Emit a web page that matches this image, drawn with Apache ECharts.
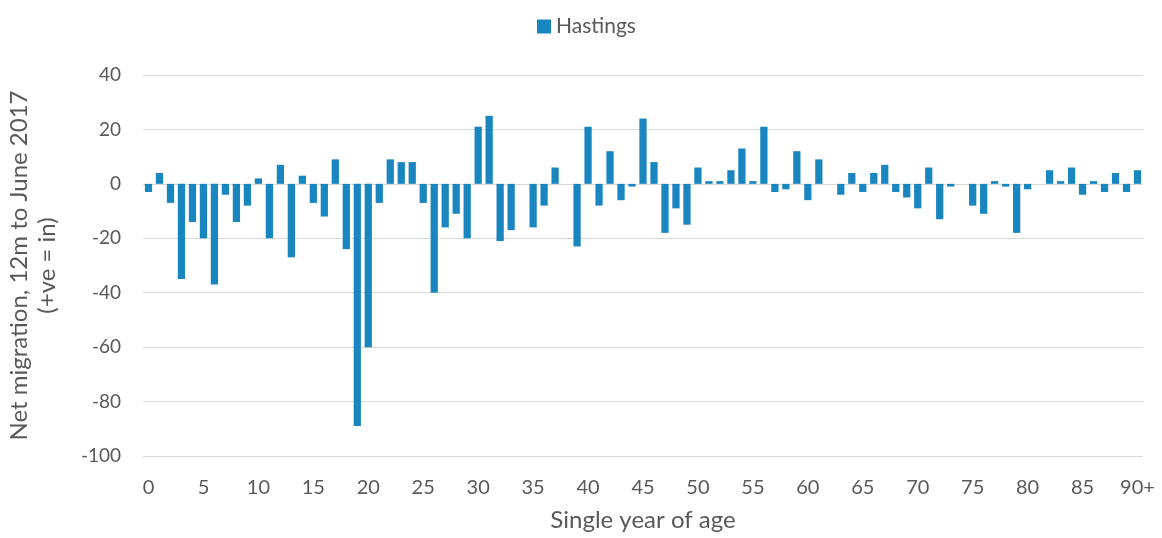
<!DOCTYPE html>
<html>
<head>
<meta charset="utf-8">
<script src="https://cdn.jsdelivr.net/npm/echarts@6/dist/echarts.min.js"></script>
<style>
    html, body { margin: 0; padding: 0; background: #fff; }
    #chart { width: 1162px; height: 538px; }
</style>
</head>
<body>
<div id="chart"></div>
<script>
// single year of age, 0 .. 89 then 90+
var ages = [];
for (var a = 0; a < 90; a++) {
    ages.push(String(a));
}
ages.push('90+');

// net migration (+ve = in)
var hastings = [
    -3, 4, -7, -35, -14, -20, -37, -4, -14, -8,
    2, -20, 7, -27, 3, -7, -12, 9, -24, -89,
    -60, -7, 9, 8, 8, -7, -40, -16, -11, -20,
    21, 25, -21, -17, 0, -16, -8, 6, 0, -23,
    21, -8, 12, -6, -1, 24, 8, -18, -9, -15,
    6, 1, 1, 5, 13, 1, 21, -3, -2, 12,
    -6, 9, 0, -4, 4, -3, 4, 7, -3, -5,
    -9, 6, -13, -1, 0, -8, -11, 1, -1, -18,
    -2, 0, 5, 1, 6, -4, 1, -3, 4, -3,
    5
];

var yTicks = { min: -100, max: 40, step: 20 };

var font = 'Lato, "Open Sans", sans-serif';
var textColor = '#595959';

var myChart = echarts.init(document.getElementById('chart'));

option = {
    animation: false,
    textStyle: { fontFamily: font },
    legend: {
        data: ['Hastings'],
        left: 532,
        top: 11,
        icon: 'rect',
        itemWidth: 14,
        itemHeight: 14,
        itemGap: 6,
        textStyle: { color: textColor, fontSize: 21, fontFamily: font }
    },
    grid: {
        left: 143,
        right: 19,
        top: 75,
        bottom: 82,
        containLabel: false,
        outerBoundsMode: 'none'
    },
    xAxis: {
        type: 'category',
        data: ages,
        name: 'Single year of age',
        nameLocation: 'middle',
        nameGap: 52,
        nameTextStyle: { color: textColor, fontSize: 24, fontFamily: font },
        axisLine: { show: false },
        axisTick: { show: false },
        axisLabel: {
            interval: 4,
            color: textColor,
            fontSize: 20,
            margin: 22,
            fontFamily: font
        }
    },
    yAxis: {
        type: 'value',
        min: yTicks.min,
        max: yTicks.max,
        interval: yTicks.step,
        name: 'Net migration, 12m to June 2017\n(+ve = in)',
        nameLocation: 'middle',
        nameGap: 82,
        nameTextStyle: { color: textColor, fontSize: 24, lineHeight: 28, fontFamily: font },
        axisLine: { show: false },
        axisTick: { show: false },
        axisLabel: {
            color: textColor,
            fontSize: 19,
            margin: 22,
            fontFamily: font
        },
        splitLine: {
            lineStyle: { color: '#d9d9d9', width: 1 }
        }
    },
    series: [{
        name: 'Hastings',
        type: 'bar',
        data: hastings,
        barCategoryGap: '34%',
        itemStyle: { color: '#1a86bf' }
    }]
};
myChart.setOption(option);
</script>
</body>
</html>
